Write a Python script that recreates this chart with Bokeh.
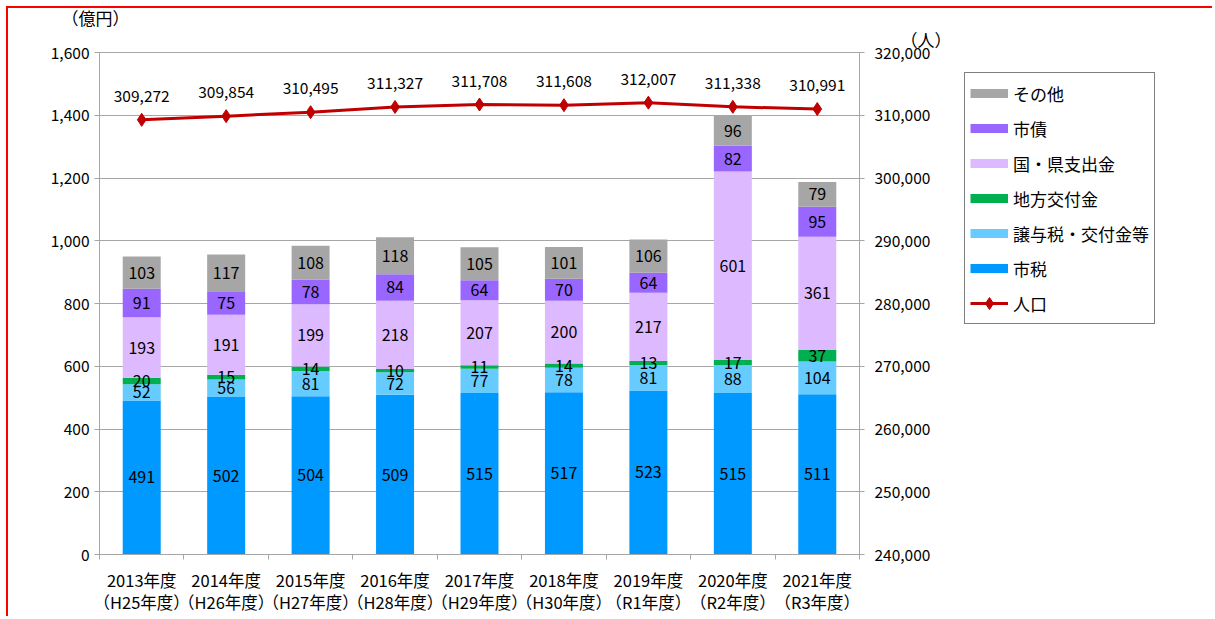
from bokeh.plotting import figure
from bokeh.layouts import row
from bokeh.models import (Range1d, LinearAxis, FixedTicker, NumeralTickFormatter,
                          Legend, LegendItem, Title, ColumnDataSource)
from bokeh.core.properties import value
from bokeh.embed import file_html
from bokeh.resources import INLINE

# ---- data ----
years = ["2013年度\n（H25年度）", "2014年度\n（H26年度）", "2015年度\n（H27年度）",
         "2016年度\n（H28年度）", "2017年度\n（H29年度）", "2018年度\n（H30年度）",
         "2019年度\n（R1年度）", "2020年度\n（R2年度）", "2021年度\n（R3年度）"]
shizei = [491, 502, 504, 509, 515, 517, 523, 515, 511]          # 市税
joyozei = [52, 56, 81, 72, 77, 78, 81, 88, 104]                 # 譲与税・交付金等
chiho = [20, 15, 14, 10, 11, 14, 13, 17, 37]                    # 地方交付金
kuniken = [193, 191, 199, 218, 207, 200, 217, 601, 361]         # 国・県支出金
shisai = [91, 75, 78, 84, 64, 70, 64, 82, 95]                   # 市債
sonota = [103, 117, 108, 118, 105, 101, 106, 96, 79]            # その他
population = [309272, 309854, 310495, 311327, 311708, 311608, 312007, 311338, 310991]

series_names = ["市税", "譲与税・交付金等", "地方交付金", "国・県支出金", "市債", "その他"]
series_keys = ["shizei", "joyozei", "chiho", "kuniken", "shisai", "sonota"]
series_vals = [shizei, joyozei, chiho, kuniken, shisai, sonota]
colors = ["#0099FF", "#66CCFF", "#00B050", "#DDB9FF", "#9966FF", "#A6A6A6"]
line_color = "#C00000"

FONT = "Noto Sans CJK JP"
GRID = "#A6A6A6"

n = len(years)
xs = [i + 0.5 for i in range(n)]

data = {"x": xs}
for k, v in zip(series_keys, series_vals):
    data[k] = v
src = ColumnDataSource(data)

H = 608
p = figure(width=946, height=H, x_range=Range1d(0, n), y_range=Range1d(0, 1600),
           output_backend="svg", toolbar_location=None,
           min_border_left=91, min_border_right=95, min_border_top=43, min_border_bottom=59)
p.extra_y_ranges = {"pop": Range1d(240000, 320000)}

p.outline_line_color = GRID
p.xgrid.visible = False
p.ygrid.grid_line_color = GRID
p.ygrid.ticker = FixedTicker(ticks=list(range(0, 1601, 200)))

# stacked bars
renderers = p.vbar_stack(series_keys, x="x", width=0.45, color=colors, line_color=None, source=src)

# segment labels
lx, ly, lt = [], [], []
for i in range(n):
    bottom = 0
    for vals in series_vals:
        v = vals[i]
        lx.append(xs[i])
        ly.append(bottom + v / 2)
        lt.append(str(v))
        bottom += v
p.text(x=lx, y=ly, text=lt, text_align="center", text_baseline="middle",
       text_font=value(FONT), text_font_size="16px", text_color="#000000")

# population line
p.line(xs, population, y_range_name="pop", line_color=line_color, line_width=3)
p.scatter(xs, population, y_range_name="pop", marker="diamond", size=13,
          fill_color=line_color, line_color=line_color)
p.text(x=xs, y=population, text=[f"{v:,}" for v in population], y_range_name="pop",
       y_offset=-18, text_align="center", text_baseline="bottom",
       text_font=value(FONT), text_font_size="15.5px", text_color="#000000")

# axes
def style_axis(ax):
    ax.axis_line_color = GRID
    ax.major_tick_line_color = GRID
    ax.major_tick_out = 5
    ax.major_tick_in = 0
    ax.minor_tick_line_color = None
    ax.major_label_text_font = FONT
    ax.major_label_text_font_size = "15.5px"
    ax.major_label_text_color = "#000000"

yl = p.yaxis[0]
style_axis(yl)
yl.ticker = FixedTicker(ticks=list(range(0, 1601, 200)))
yl.formatter = NumeralTickFormatter(format="0,0")
yl.major_label_standoff = 5

yr = LinearAxis(y_range_name="pop")
style_axis(yr)
yr.ticker = FixedTicker(ticks=list(range(240000, 320001, 10000)))
yr.formatter = NumeralTickFormatter(format="0,0")
yr.major_label_standoff = 10
p.add_layout(yr, "right")

xa = p.xaxis[0]
style_axis(xa)
xa.ticker = FixedTicker(ticks=xs, minor_ticks=list(range(n + 1)))
xa.major_label_overrides = {x: y for x, y in zip(xs, years)}
xa.major_label_text_font_size = "16.5px"
xa.major_label_text_line_height = 0.92
xa.major_tick_line_color = None
xa.major_tick_out = 0
xa.minor_tick_line_color = GRID
xa.minor_tick_out = 5
xa.minor_tick_in = 0
xa.major_label_standoff = 8

# unit labels (titles above the frame)
p.title.text = "（億円）"
p.title.align = "left"
p.title.offset = -38
p.title.standoff = -12
p.title.text_font = FONT
p.title.text_font_size = "17px"
p.title.text_font_style = "normal"
p.title.text_color = "#000000"
t2 = Title(text="（人）", align="right", offset=-92, standoff=2, text_font=FONT,
           text_font_size="17px", text_font_style="normal", text_color="#000000")
p.add_layout(t2, "above")

# legend panel (separate canvas to the right of the chart)
q = figure(width=258, height=H, title=None, x_axis_type=None, y_axis_type=None,
           x_range=Range1d(0, 1), y_range=Range1d(0, 1),
           output_backend="svg", toolbar_location=None,
           min_border_left=0, min_border_right=0, min_border_top=0, min_border_bottom=0)
q.outline_line_color = None
q.xgrid.visible = False
q.ygrid.visible = False
# legend proxies (zero-length / off-frame, only their swatches are shown in the legend)
proxies = [q.line(x=[0.5, 0.5], y=[0, 0], line_width=9, line_color=c, line_cap="butt")
           for c in colors]
pl = q.line(x=[0.5, 0.5], y=[0, 0], line_color=line_color, line_width=3)
pm = q.scatter(x=[-5], y=[-5], marker="diamond", size=13, fill_color=line_color,
               line_color=line_color)

items = [LegendItem(label=series_names[i], renderers=[proxies[i]]) for i in range(5, -1, -1)]
items.append(LegendItem(label="人口", renderers=[pl, pm]))
legend = Legend(items=items, location=(10, 230), orientation="vertical",
                glyph_width=38, glyph_height=30, label_height=20, spacing=5,
                padding=5, margin=0, label_standoff=5,
                label_text_font=FONT, label_text_font_size="17px", label_text_color="#000000",
                border_line_color="#000000", border_line_width=1,
                background_fill_color="#FFFFFF", background_fill_alpha=1.0)
q.add_layout(legend, "center")

layout = row(p, q)
layout.styles = {"border-top": "2px solid #FF0000", "border-left": "2px solid #FF0000",
                 "margin-top": "6px", "margin-left": "6px"}

open("out.html", "w").write(file_html(layout, INLINE))
